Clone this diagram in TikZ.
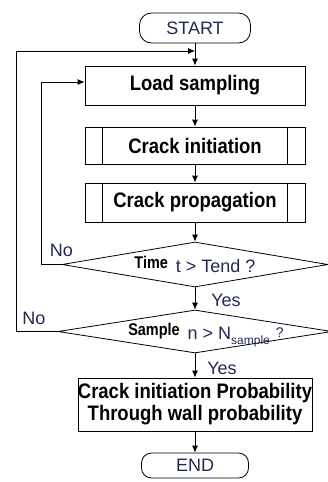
\documentclass[tikz,border=0pt]{standalone}
\usepackage{fontspec}
\setmainfont{Liberation Sans}
\newfontfamily\narrowsans[FakeStretch=0.88]{Liberation Sans}
\newfontfamily\narrowersans[FakeStretch=0.85]{Liberation Sans}
\usepackage{tikz}
\usetikzlibrary{arrows.meta}
\usetikzlibrary{shapes.geometric}
\usetikzlibrary{positioning}
\definecolor{tnavy}{rgb}{0.12, 0.16, 0.33}
\tikzset{terminal/.style = {draw, rounded corners=12pt, minimum width=111pt,
                            minimum height=30pt, inner sep=0pt, text=tnavy,
                            font=\fontsize{18}{20}\selectfont},
         process/.style  = {draw, minimum width=220pt, minimum height=39pt,
                            inner sep=0pt,
                            font=\narrowsans\bfseries\fontsize{21}{22}\selectfont},
         decision/.style = {draw, diamond, inner sep=0pt},
         answer/.style   = {text=tnavy, inner sep=0pt,
                            font=\fontsize{18}{20}\selectfont},
         flow/.style     = {-{Latex[length=7pt, width=6pt]}}}
\newcommand{\boldsmall}{\narrowersans\bfseries\fontsize{17}{18}\selectfont}

\begin{document}
\begin{tikzpicture}[x=1pt, y=-1pt, line width=0.8pt]
    \useasboundingbox (0, 0) rectangle (327, 482);

    \node [terminal] (start) at (195, 28) {START};
    \node [process] (load) at (195, 85.5) {Load sampling};
    \node [process, minimum height=37pt] (init) at (195, 145.5) {Crack initiation};
    \node [process] (prop) at (195, 202.5) {Crack propagation};
    \node [decision, minimum width=266pt, minimum height=45pt] (time) at (195, 264.5) {};
    \node [decision, minimum width=274pt, minimum height=43pt] (sample) at (195, 331.5) {};
    \node [process, minimum width=232pt, minimum height=53pt, align=center] (result) at (195, 404.5)
        {Crack initiation Probability\\Through wall probability};
    \node [terminal, rounded corners=10pt, minimum width=107pt, minimum height=25pt] (end) at (195, 465.5) {END};

    \foreach \sub in {init, prop} {
        \draw ([xshift=18pt]\sub.north west) -- ([xshift=18pt]\sub.south west);
        \draw ([xshift=-18pt]\sub.north east) -- ([xshift=-18pt]\sub.south east);
    }

    \node [anchor=base, inner sep=0pt] (timetext) at ([yshift=-3.5pt]time.center)
        {{\boldsmall Time}\hspace{8pt}\raisebox{-4pt}{\color{tnavy}\fontsize{18}{20}\selectfont t > Tend ?}};
    \node [anchor=base, inner sep=0pt] (sampletext) at ([xshift=11pt, yshift=-3.5pt]sample.center)
        {{\boldsmall Sample}\hspace{8pt}\raisebox{-4pt}{\color{tnavy}\fontsize{18}{20}\selectfont n > N\raisebox{-5pt}{\fontsize{12}{14}\selectfont sample}}\hspace{6pt}\raisebox{-2pt}{\color{tnavy}\fontsize{14}{15}\selectfont ?}};

    \coordinate (merge) at (195, 51);

    \draw [flow] (start) -- (load);
    \draw [flow] (load) -- (init);
    \draw [flow] (init) -- (prop);
    \draw [flow] (prop) -- (time);
    \draw [flow] (time) -- (sample);
    \draw [flow] (sample) -- (result);
    \draw [flow] (result) -- (end);

    \draw [flow] (time.west) -- ++(-20, 0) |- ([yshift=3.5pt]load.west);
    \draw [flow] (sample.west) -- ++(-41, 0) |- (merge);

    \node [answer] (timeno) at (61.5, 250) {No};
    \node [answer] (sampleno) at (34, 318.5) {No};
    \node [answer] (timeyes) at (226, 300) {Yes};
    \node [answer] (sampleyes) at (222, 368) {Yes};
\end{tikzpicture}
\end{document}
